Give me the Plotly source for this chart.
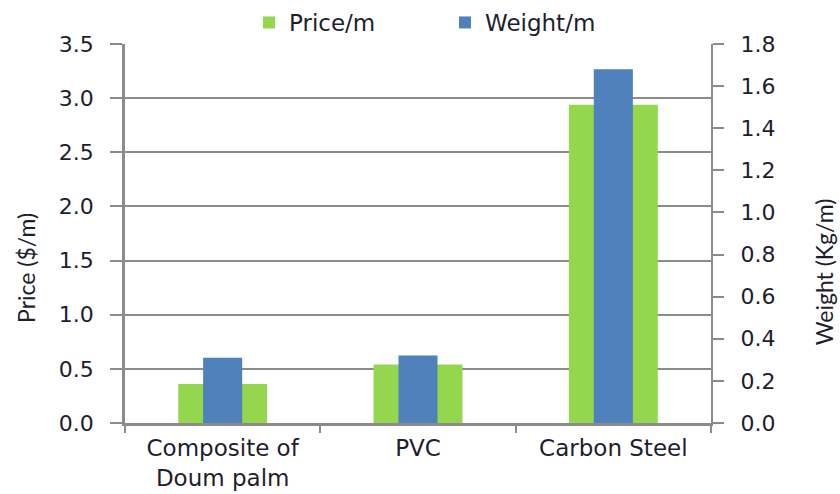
import plotly.graph_objects as go

# Material comparison data
categories = ["Composite of<br>Doum palm", "PVC", "Carbon Steel"]
price_per_m = [0.36, 0.54, 2.94]      # $/m, left axis
weight_per_m = [0.31, 0.32, 1.68]     # Kg/m, right axis

GREEN = "#94D64E"
BLUE = "#4F81BD"
GRID = "#8C8C8C"
TEXT = "#1E1E2E"
WIDE = "'DejaVu Sans', sans-serif"
NARROW = "Lato, 'Open Sans', sans-serif"

fig = go.Figure()
fig.add_trace(go.Bar(
    x=categories, y=price_per_m, name="Price/m",
    marker=dict(color=GREEN, line=dict(width=0)),
    width=0.455, yaxis="y",
))
fig.add_trace(go.Bar(
    x=categories, y=weight_per_m, name="Weight/m",
    marker=dict(color=BLUE, line=dict(width=0)),
    width=0.2, yaxis="y2",
))

# Axis titles sit slightly below the vertical centre of the plot area
axis_titles = [
    dict(text="Price ($/m)", x=-0.169, y=0.409),
    dict(text="Weight (Kg/m)", x=1.193, y=0.398),
]
annotations = [
    dict(text=t["text"], x=t["x"], y=t["y"], xref="paper", yref="paper",
         xanchor="center", yanchor="middle", textangle=-90, showarrow=False,
         font=dict(family=NARROW, size=23, color=TEXT))
    for t in axis_titles
]

fig.update_layout(
    width=840, height=494,
    margin=dict(l=125, r=129, t=44, b=71, autoexpand=False),
    paper_bgcolor="white", plot_bgcolor="white",
    barmode="overlay",
    font=dict(family=WIDE, size=22, color=TEXT),
    showlegend=True,
    legend=dict(
        orientation="h", x=0.2116, xanchor="left", y=1.0, yanchor="bottom",
        entrywidth=151, entrywidthmode="pixels",
        font=dict(family=WIDE, size=23, color=TEXT), traceorder="normal",
        bgcolor="rgba(0,0,0,0)",
    ),
    annotations=annotations,
    xaxis=dict(
        type="category", showline=True, linecolor=GRID, linewidth=2.5,
        ticks="outside", tickson="boundaries", ticklen=7, tickcolor=GRID,
        tickwidth=2, showgrid=False, tickfont=dict(family=WIDE, size=23, color=TEXT),
        ticklabelstandoff=3, range=[-0.5, 2.5], automargin=False,
    ),
    yaxis=dict(
        range=[0, 3.5], dtick=0.5, tickformat=".1f",
        showline=True, linecolor=GRID, linewidth=2.5,
        showgrid=True, gridcolor=GRID, gridwidth=1.5,
        ticks="outside", ticklen=12, tickcolor=GRID, tickwidth=1.5,
        tickfont=dict(family=WIDE, size=22, color=TEXT), zeroline=False,
        ticklabelstandoff=12, automargin=False,
    ),
    yaxis2=dict(
        range=[0, 1.8], dtick=0.2, tickformat=".1f",
        overlaying="y", side="right", anchor="x",
        showline=True, linecolor=GRID, linewidth=2,
        showgrid=False, zeroline=False,
        ticks="outside", ticklen=11, tickcolor=GRID, tickwidth=1.5,
        tickfont=dict(family=WIDE, size=22, color=TEXT),
        ticklabelstandoff=12, automargin=False,
    ),
)

fig.write_html("out.html")
